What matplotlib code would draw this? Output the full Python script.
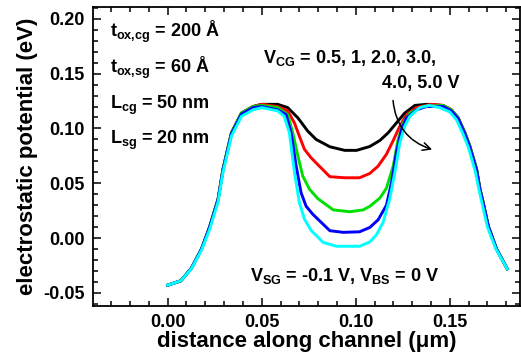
import matplotlib
matplotlib.use('Agg')
import matplotlib.pyplot as plt
from matplotlib.ticker import MultipleLocator

plt.rcParams['font.family'] = ['Liberation Sans', 'DejaVu Sans']
plt.rcParams['font.weight'] = 'bold'
plt.rcParams['mathtext.fontset'] = 'custom'
plt.rcParams['mathtext.rm'] = 'Liberation Sans:bold'
plt.rcParams['mathtext.bf'] = 'Liberation Sans:bold'
plt.rcParams['mathtext.it'] = 'Liberation Sans:bold'

# potential profiles along the channel, one per V_CG
x_black = [0, .007, .0126, .018, .0223, .0268, .0294, .0339, .0392, .0454, .050, .0585,
           .0638, .0692, .0745, .0789, .0862, .0941, .1004, .1074, .1128, .1172, .1216,
           .126, .1314, .1376, .1464, .1508, .1544, .158, .1606, .1642, .166, .1677,
           .1704, .1748, .1805]
y_black = [-.043, -.039, -.0276, -.010, .010, .0355, .0627, .096, .114, .120, .122, .122,
           .119, .1097, .0975, .090, .0833, .080, .080, .0835, .089, .096, .105,
           .114, .121, .122, .121, .117, .1097, .096, .084, .0627, .0445, .0324,
           .011, -.010, -.028]

x_red = [0, .007, .0126, .018, .0223, .0268, .0294, .0339, .0392, .0454, .050, .0585,
         .0638, .0674, .070, .0727, .0762, .0798, .0862, .094, .102, .1075, .1119,
         .1163, .1199, .1234, .127, .1323, .140, .1464, .1508, .1544, .158, .1606,
         .1642, .166, .1677, .1704, .1748, .1805]
y_red = [-.043, -.039, -.0276, -.010, .010, .0355, .0627, .096, .114, .120, .122, .120,
         .116, .105, .093, .081, .0733, .067, .056, .055, .055, .059, .0657,
         .0765, .089, .102, .1127, .119, .122, .121, .117, .1097, .096, .084,
         .0627, .0445, .0324, .011, -.010, -.028]

x_green = [0, .007, .0126, .018, .0223, .0268, .0294, .0339, .0392, .0454, .050, .0585,
           .0638, .0665, .0692, .0718, .0754, .0798, .088, .0968, .104, .1075, .1128,
           .1163, .1199, .1225, .1252, .1287, .1358, .1464, .1508, .1544, .158, .1606,
           .1642, .166, .1677, .1704, .1748, .1805]
y_green = [-.043, -.039, -.0276, -.010, .010, .0355, .0627, .096, .114, .120, .121, .119,
           .1127, .096, .075, .0566, .0445, .036, .0257, .024, .0257, .029, .0365,
           .0455, .0657, .090, .105, .114, .120, .121, .117, .1097, .096, .084,
           .0627, .0445, .0324, .011, -.010, -.028]

x_blue = [0, .007, .0126, .018, .0223, .0268, .0294, .0339, .0392, .0454, .050, .0585,
          .0629, .0656, .0683, .0709, .0736, .0771, .0798, .0862, .0933, .102, .1075,
          .1119, .1163, .119, .1216, .1243, .127, .1323, .1376, .1464, .1508, .1544,
          .158, .1606, .1642, .166, .1677, .1704, .1748, .1805]
y_blue = [-.043, -.039, -.0276, -.010, .010, .035, .062, .095, .113, .119, .120, .117,
          .1127, .096, .0657, .0415, .029, .0218, .0173, .0067, .0052, .0057, .0097,
          .0167, .030, .0506, .078, .099, .1097, .117, .120, .120, .116, .109,
          .095, .083, .062, .0445, .032, .011, -.010, -.028]

x_cyan = [0, .007, .0126, .018, .0223, .0268, .0294, .0339, .0392, .0454, .050, .0585,
          .062, .0647, .0674, .070, .0727, .0762, .0798, .0826, .0897, .102, .1075,
          .111, .1145, .118, .1208, .1234, .126, .1287, .134, .139, .1447, .150,
          .1535, .157, .160, .1635, .1655, .1672, .170, .1745, .1805]
y_cyan = [-.043, -.039, -.028, -.011, .008, .033, .060, .093, .111, .117, .119, .116,
          .111, .096, .060, .0324, .0173, .007, .001, -.004, -.0075, -.0075, -.0035,
          .003, .0143, .0355, .060, .087, .102, .111, .119, .121, .119, .115,
          .108, .095, .082, .061, .044, .031, .010, -.010, -.028]

curves = [(x_black, y_black, 'black'), (x_red, y_red, '#ff0000'),
          (x_green, y_green, '#00e000'), (x_blue, y_blue, '#0000ff'),
          (x_cyan, y_cyan, '#00ffff')]

fig = plt.figure(figsize=(5.21, 3.60), dpi=100)
ax = fig.add_axes([93/521, 1-306/360, 427/521, 299/360])

for xs, ys, c in curves:
    ax.plot(xs, ys, color=c, lw=2.1)

ax.set_xlim(-0.0397, 0.1873)
ax.set_ylim(-0.062, 0.2108)
ax.xaxis.set_minor_locator(MultipleLocator(0.01))
ax.yaxis.set_minor_locator(MultipleLocator(0.01))
ax.set_xticks([0, 0.05, 0.10, 0.15])
ax.set_xticklabels(['0.00', '0.05', '0.10', '0.15'])
ax.set_yticks([-0.05, 0, 0.05, 0.10, 0.15, 0.20])
ax.set_yticklabels(['-0.05', '0.00', '0.05', '0.10', '0.15', '0.20'])
ax.tick_params(which='both', direction='in', top=True, right=True, width=1.1)
ax.tick_params(which='major', length=6, labelsize=13, pad=6)
ax.tick_params(which='minor', length=3.5)
for s in ax.spines.values():
    s.set_linewidth(1.3)

ax.set_xlabel('distance along channel (μm)', fontsize=16, fontweight='bold', labelpad=0)
ax.set_ylabel('electrostatic potential (eV)', fontsize=16, fontweight='bold', labelpad=4)

fs = 13
ax.text(-0.0309, 0.1834, r'$\mathbf{t_{ox{,}cg}}$ = 200 Å', fontsize=fs, fontweight='bold')
ax.text(-0.0309, 0.1506, r'$\mathbf{t_{ox{,}sg}}$ = 60 Å', fontsize=fs, fontweight='bold')
ax.text(-0.0309, 0.1179, r'$\mathbf{L_{cg}}$ = 50 nm', fontsize=fs, fontweight='bold')
ax.text(-0.0309, 0.0855, r'$\mathbf{L_{sg}}$ = 20 nm', fontsize=fs, fontweight='bold')
ax.text(0.0505, 0.1597, r'$\mathbf{V_{CG}}$ = 0.5, 1, 2.0, 3.0,', fontsize=fs, fontweight='bold')
ax.text(0.1138, 0.137, '4.0, 5.0 V', fontsize=fs, fontweight='bold')
ax.text(0.0436, -0.0388, r'$\mathbf{V_{SG}}$ = -0.1 V, $\mathbf{V_{BS}}$ = 0 V',
        fontsize=fs, fontweight='bold')

ax.annotate('', xy=(0.142, 0.080), xytext=(0.1197, 0.128),
            arrowprops=dict(arrowstyle='->', color='black', lw=1.1,
                            connectionstyle='arc3,rad=0.35', mutation_scale=14))

fig.savefig('out.png', dpi=100)
